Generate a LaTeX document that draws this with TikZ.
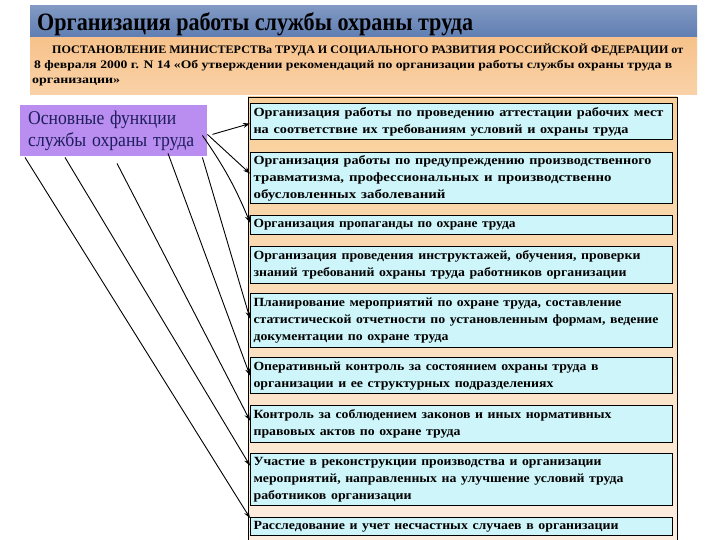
\documentclass[tikz,border=0pt]{standalone}
\usepackage{fontspec}
\usepackage{graphicx}
\setmainfont{Liberation Serif}
\usetikzlibrary{arrows.meta,calc}
\newcommand\fitline[2]{\resizebox{#1pt}{\height}{#2}}
\definecolor{blueT}{HTML}{8199C3}
\definecolor{blueM}{HTML}{E6ECF5}
\definecolor{blueB}{HTML}{5F7DB2}
\definecolor{orT}{HTML}{F7C28B}
\definecolor{orM}{HTML}{FFF3E6}
\definecolor{orB}{HTML}{F9D2A8}
\definecolor{panT}{HTML}{F8CF98}
\definecolor{panB}{HTML}{FDEEE2}
\definecolor{boxcyan}{HTML}{CDF5FA}
\definecolor{lilac}{HTML}{B98EF0}
\definecolor{navy}{HTML}{1E1E5C}
\begin{document}
\begin{tikzpicture}[x=1pt,y=-1pt,
  funcbox/.style={draw=black, line width=1.1pt, fill=boxcyan, anchor=north west,
    text width=416pt, inner xsep=3pt, inner ysep=0pt, align=left,
    font=\bfseries\fontsize{12.5}{17}\selectfont},
  conn/.style={draw=black, line width=0.9pt, -{Stealth[length=7pt,width=5pt]}},
  subline/.style={anchor=base west, inner sep=0pt, font=\bfseries\fontsize{11.5}{14}\selectfont}
]
\useasboundingbox (0,0) rectangle (720,540);
\fill[white] (0,0) rectangle (720,540);
% banners
\shade[top color=blueT, middle color=blueM, bottom color=blueB] (30,6) rectangle (697,38);
\shade[top color=orT, middle color=orM, bottom color=orB] (30,38) rectangle (697,95);
\node[anchor=base west, inner sep=0pt, font=\bfseries\fontsize{25}{28}\selectfont] (title) at (37,31)
  {\fitline{436}{Организация работы службы охраны труда}};
\node[subline] (sub1) at (52,54)
  {\fitline{631}{ПОСТАНОВЛЕНИЕ МИНИСТЕРСТВа ТРУДА И СОЦИАЛЬНОГО РАЗВИТИЯ РОССИЙСКОЙ ФЕДЕРАЦИИ от}};
\node[subline] (sub2) at (34,69)
  {\fitline{638}{8 февраля 2000 г. N 14 «Об утверждении рекомендаций по организации работы службы охраны труда в}};
\node[subline] (sub3) at (32,84)
  {\fitline{88}{организации»}};
% panel
\shade[top color=panT, bottom color=panB, draw=black, line width=0.8pt] (248,97) rectangle (677,545);
% function boxes
\node[funcbox, minimum height=36pt] (b1) at (250,103)
  {\fitline{410}{Организация работы по проведению аттестации рабочих мест}\\
   \fitline{375}{на соответствие их требованиям условий и охраны труда}};
\node[funcbox, minimum height=51pt] (b2) at (250,152)
  {\fitline{398}{Организация работы по предупреждению производственного}\\
   \fitline{358}{травматизма, профессиональных и производственно}\\
   \fitline{192}{обусловленных заболеваний}};
\node[funcbox, minimum height=19pt] (b3) at (250,215)
  {\fitline{262}{Организация пропаганды по охране труда}};
\node[funcbox, minimum height=37pt] (b4) at (250,246)
  {\fitline{387}{Организация проведения инструктажей, обучения, проверки}\\
   \fitline{373}{знаний требований охраны труда работников организации}};
\node[funcbox, minimum height=54pt] (b5) at (250,293)
  {\fitline{368}{Планирование мероприятий по охране труда, составление}\\
   \fitline{405}{статистической отчетности по установленным формам, ведение}\\
   \fitline{195}{документации по охране труда}};
\node[funcbox, minimum height=36pt] (b6) at (250,357)
  {\fitline{345}{Оперативный контроль за состоянием охраны труда в}\\
   \fitline{300}{организации и ее структурных подразделениях}};
\node[funcbox, minimum height=37pt] (b7) at (250,405)
  {\fitline{358}{Контроль за соблюдением законов и иных нормативных}\\
   \fitline{207}{правовых актов по охране труда}};
\node[funcbox, minimum height=52pt] (b8) at (250,453)
  {\fitline{348}{Участие в реконструкции производства и организации}\\
   \fitline{370}{мероприятий, направленных на улучшение условий труда}\\
   \fitline{158}{работников организации}};
\node[funcbox, minimum height=18pt] (b9) at (250,517)
  {\fitline{365}{Расследование и учет несчастных случаев в организации}};
% main box
\node[anchor=north west, fill=lilac, minimum width=187pt, minimum height=51pt,
  text width=171pt, inner xsep=8pt, inner ysep=0pt, align=left, text=navy,
  font=\fontsize{19.5}{22}\selectfont] (main) at (20,105)
  {\fitline{148}{Основные функции}\\\fitline{166}{службы охраны труда}};
% start points on the main box
\coordinate (s1) at ($(main.south east)+(5,-22)$);
\coordinate (s2) at ($(main.south east)+(0,-22)$);
\coordinate (s3) at ($(main.south east)+(-5,-21)$);
\coordinate (s4) at ($(main.south east)+(-5,1)$);
\coordinate (s5) at ($(main.south west)+(148,-3)$);
\coordinate (s6) at ($(main.south west)+(97,7)$);
\coordinate (s7) at ($(main.south west)+(45,1)$);
\coordinate (s8) at ($(main.south west)+(5,1)$);
% connectors
\draw[conn] (s1) -- ($(b1.west)+(0,2)$);
\draw[conn] (s2) -- ($(b2.west)+(0,-4.5)$);
\draw[conn] (s3) to[bend left=6] ($(b3.west)+(0,-2.5)$);
\draw[conn] (s4) -- ($(b5.west)+(0,-2)$);
\draw[conn] (s5) -- (b6.west);
\draw[conn] (s6) -- ($(b7.west)+(0,-3.5)$);
\draw[conn] (s7) -- ($(b8.west)+(0,-14)$);
\draw[conn] (s8) -- ($(b9.north west)+(0,1)$);
\end{tikzpicture}
\end{document}
